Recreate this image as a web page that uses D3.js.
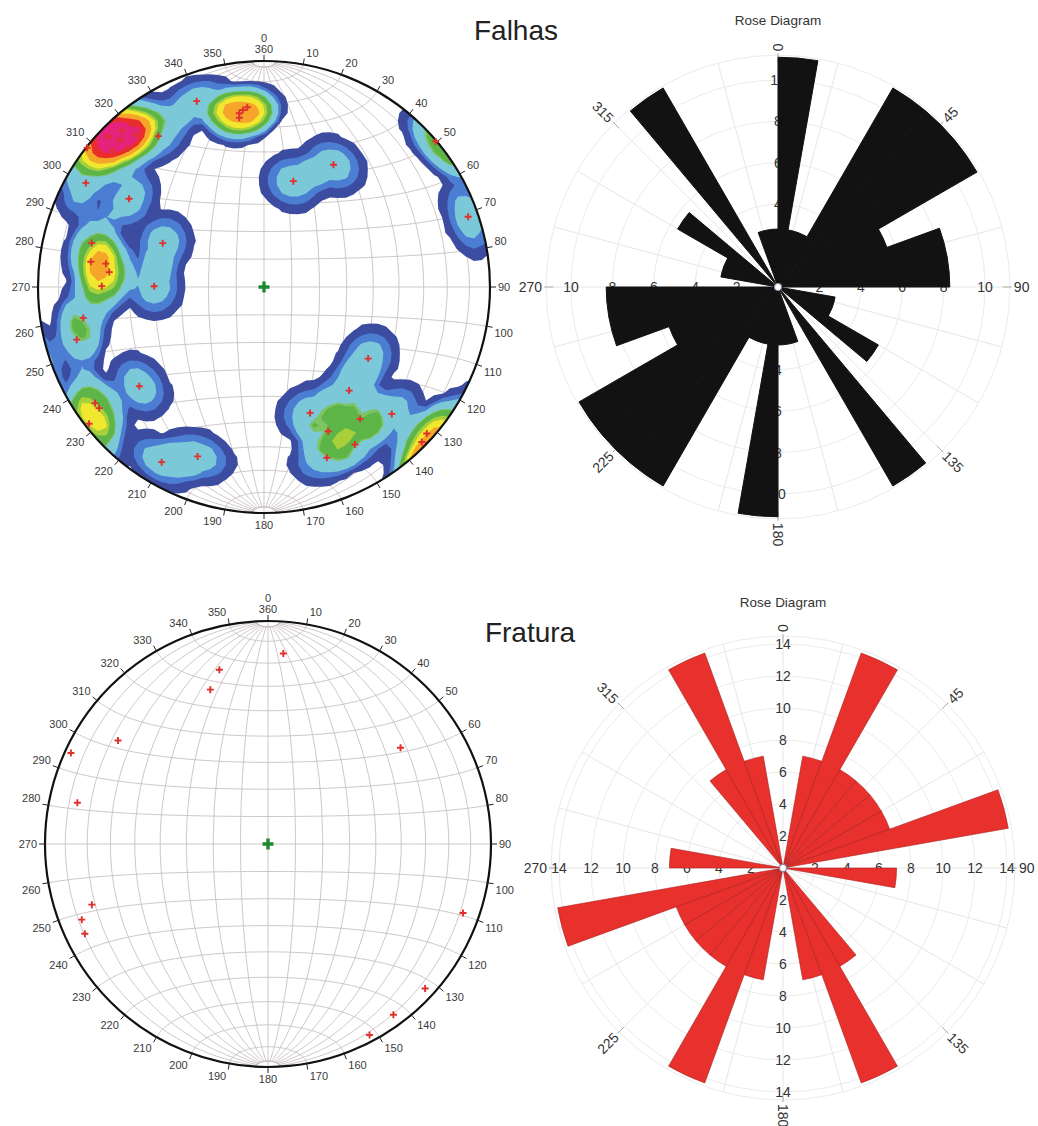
<!DOCTYPE html>
<html>
<head>
<meta charset="utf-8">
<script src="https://cdn.jsdelivr.net/npm/d3@7"></script>
<style>
html,body{margin:0;padding:0;background:#fff;}
svg{display:block;font-family:"Liberation Sans",Arial,sans-serif;}
</style>
</head>
<body>
<svg id="chart" width="1038" height="1126"></svg>
<script>
// ================= DATA =================
// Falhas: poles to planes, lower hemisphere (trend, plunge in degrees)
const falhasTrend  = [340.1,354.7,351.9,351.7,353.2,314.0,317.8,320.0,311.9,315.5,315.6,320.8,325.0,308.2,49.7,29.6,15.5,300.3,303.2,284.3,293.4,278.3,278.4,275.5,270.3,270.4,260.3,254.3,231.5,235.5,233.7,232.0,210.3,201.4,124.5,140.6,159.9,134.8,143.9,156.0,150.0,159.8,134.5,132.0,71.0];
const falhasPlunge = [13.6,21.2,23.4,25.3,22.2,4.6,7.2,13.0,10.6,15.2,9.8,8.3,19.6,0.5,0.5,37.8,49.8,9.6,29.4,22.4,49.6,23.6,30.0,31.8,29.0,49.8,20.0,15.0,30.2,10.2,10.4,2.0,11.2,20.6,43.4,40.4,40.4,21.4,28.6,30.8,20.6,20.6,2.4,3.5,5.0];
// Fratura: poles (trend, plunge in degrees)
const fraturaTrend  = [4.6,344.4,339.5,304.6,294.8,282.2,54.0,251.0,247.9,243.9,109.5,132.6,143.7,152.0];
const fraturaPlunge = [15.4,20.0,27.0,19.4,3.0,13.6,27.4,17.6,10.8,9.4,8.0,4.8,5.6,3.4];
// Rose diagrams (bidirectional, 10 degree bins, values in %)
const roseBinStart = [0,10,20,30,40,50,60,70,80,90,100,110,120,130,140,150,160,170];
const falhasRose   = [11.1,2.8,2.8,11.1,11.1,11.1,5.6,8.3,8.3,0,2.8,2.8,5.6,0,11.1,0,2.8,2.8];
const fraturaRose  = [0,7.1,14.3,7.1,7.1,7.1,7.1,14.3,0,7.1,0,0,0,0,7.1,14.3,7.1,0];
const falhasRings  = [2,4,6,8,10];
const fraturaRings = [2,4,6,8,10,12,14];
const netTickLabels = [0,10,20,30,40,50,60,70,80,90,100,110,120,130,140,150,160,170,180,190,200,210,220,230,240,250,260,270,280,290,300,310,320,330,340,350];
const roseDirLabels = [0,45,90,135,180,225,270,315];
const densityLevels = [0.1,0.5,0.85,1.7,1.82,2.5,2.9,3.6,4.6,5.5];
const densityColors = ["#3c4ca0","#4b7dd3","#7bc8d9","#7fc464","#5db548","#a8d03a","#f1e72f","#f6a52b","#ea2c2a","#e5237c"];

// ================= DRAW =================
const svg = d3.select("#chart");
const defs = svg.append("defs");
const rad = Math.PI / 180;
const K0 = 5, K1 = 12.5;
function kernel(a) { return a <= K0 ? 1 : (a >= K1 ? 0 : (K1 - a) / (K1 - K0)); }

function poleVector(t, p) {
  const c = (90 - p) * rad, T = t * rad;
  return [Math.cos(c), Math.sin(c) * Math.sin(T), Math.sin(c) * Math.cos(T)];
}

function drawNet(o) {
  const { cx, cy, R, trend, plunge, density, id } = o;
  const g = svg.append("g");
  const proj = d3.geoAzimuthalEqualArea().rotate([0, 0]).scale(R / Math.SQRT2)
    .translate([cx, cy]).clipAngle(90).precision(0.2);
  const path = d3.geoPath(proj);
  defs.append("clipPath").attr("id", id).append("circle").attr("cx", cx).attr("cy", cy).attr("r", R);

  // graticule (Schmidt net, 10 degree)
  const grat = d3.geoGraticule().stepMinor([10, 10]).extentMinor([[-180, -87], [180, 87]]).stepMajor([90, 360]);
  const gg = g.append("g").attr("clip-path", `url(#${id})`);
  gg.append("path").datum(grat()).attr("d", path).attr("fill", "none")
    .attr("stroke", "#c6bebe").attr("stroke-width", 0.85);
  [87, -87].forEach(lat => {
    gg.append("path").datum({ type: "LineString", coordinates: d3.range(-90, 91, 5).map(l => [l, lat]) })
      .attr("d", path).attr("fill", "none").attr("stroke", "#a9a1a1").attr("stroke-width", 0.9);
  });

  const poles = trend.map((t, i) => poleVector(t, plunge[i]));

  if (density) {
    const cell = 8;
    const x0 = cx - R - 3 * cell, y0 = cy - R - 3 * cell;
    const nx = Math.ceil((2 * R + 6 * cell) / cell), ny = nx;
    const values = new Float64Array(nx * ny);
    for (let j = 0; j < ny; j++) {
      for (let i = 0; i < nx; i++) {
        let dx = x0 + (i + 0.5) * cell - cx, dy = y0 + (j + 0.5) * cell - cy;
        const d = Math.hypot(dx, dy);
        if (d > R * 0.999) { const s = R * 0.999 / d; dx *= s; dy *= s; }
        const ll = proj.invert([cx + dx, cy + dy]);
        const la = ll[1] * rad, lo = ll[0] * rad;
        const v = [Math.cos(la) * Math.cos(lo), Math.cos(la) * Math.sin(lo), Math.sin(la)];
        let s = 0;
        poles.forEach(p => {
          const dot = Math.min(1, Math.abs(v[0] * p[0] + v[1] * p[1] + v[2] * p[2]));
          s += kernel(Math.acos(dot) / rad);
        });
        values[j * nx + i] = s;
      }
    }
    const contours = d3.contours().size([nx, ny]).thresholds(densityLevels)(values);
    const gp = d3.geoPath(d3.geoIdentity().scale(cell).translate([x0, y0]));
    g.append("g").attr("clip-path", `url(#${id})`).selectAll("path").data(contours).join("path")
      .attr("d", gp).attr("fill", (d, i) => densityColors[i]).attr("stroke", "none");
  }

  // primitive circle
  g.append("circle").attr("cx", cx).attr("cy", cy).attr("r", R).attr("fill", "none")
    .attr("stroke", "#111").attr("stroke-width", 2.2);

  // ticks and labels
  netTickLabels.forEach(a => {
    const s = Math.sin(a * rad), c = Math.cos(a * rad);
    g.append("line").attr("x1", cx + R * s).attr("y1", cy - R * c)
      .attr("x2", cx + (R + 6) * s).attr("y2", cy - (R + 6) * c)
      .attr("stroke", "#222").attr("stroke-width", 1);
    const px = cx + (R + 6) * s, py = cy - (R + 6) * c;
    const sx = Math.abs(s) < 0.05 ? 0 : Math.sign(s);
    const sy = Math.abs(c) < 0.05 ? 0 : Math.sign(c);
    g.append("text").attr("x", px + sx * 2).attr("y", py - sy * 6)
      .attr("text-anchor", sx > 0 ? "start" : (sx < 0 ? "end" : "middle"))
      .attr("dominant-baseline", "central").attr("font-size", 11).attr("fill", "#3a3a3a")
      .text(a === 0 ? "360" : a);
    if (a === 0) {
      g.append("text").attr("x", cx).attr("y", py - 17).attr("text-anchor", "middle")
        .attr("dominant-baseline", "central").attr("font-size", 11).attr("fill", "#3a3a3a").text("0");
    }
  });

  // poles
  g.append("g").selectAll("path").data(poles).join("path")
    .attr("transform", p => {
      const xy = proj([Math.atan2(p[1], p[0]) / rad, Math.asin(p[2]) / rad]);
      return `translate(${xy[0]},${xy[1]})`;
    })
    .attr("d", "M-3.5,0H3.5M0,-3.5V3.5").attr("stroke", "#e0302c").attr("stroke-width", 1.9).attr("fill", "none");

  // center mark
  const c0 = proj([0, 0]);
  g.append("path").attr("transform", `translate(${c0[0]},${c0[1]})`)
    .attr("d", "M-5.5,0H5.5M0,-5.5V5.5").attr("stroke", "#1c8a32").attr("stroke-width", 3.4);
}

function drawRose(o) {
  const g = svg.append("g").attr("transform", `translate(${o.cx},${o.cy})`);
  const r = d3.scaleLinear().domain([0, 1]).range([0, o.ppu]);
  const Rout = r(o.outer);
  // radial grid
  d3.range(0, 360, 15).forEach(a => {
    g.append("line").attr("x1", 0).attr("y1", 0)
      .attr("x2", Rout * Math.sin(a * rad)).attr("y2", -Rout * Math.cos(a * rad))
      .attr("stroke", "#e6e6e6").attr("stroke-width", 1);
  });
  g.selectAll("circle.ring").data(o.rings.concat([o.outer])).join("circle").attr("class", "ring")
    .attr("r", d => r(d)).attr("fill", "none").attr("stroke", "#ebebeb").attr("stroke-width", 1);
  // direction ticks
  roseDirLabels.forEach(a => {
    const s = Math.sin(a * rad), c = Math.cos(a * rad);
    g.append("line").attr("x1", (Rout - 7) * s).attr("y1", -(Rout - 7) * c)
      .attr("x2", (Rout + 2) * s).attr("y2", -(Rout + 2) * c).attr("stroke", "#aaa").attr("stroke-width", 1);
  });
  // ring labels along axes
  o.rings.forEach(v => {
    [[0, -1], [0, 1], [-1, 0], [1, 0]].forEach(([ux, uy]) => {
      g.append("text").attr("x", ux * r(v)).attr("y", uy * r(v)).attr("text-anchor", "middle")
        .attr("dominant-baseline", "central").attr("font-size", 14).attr("fill", "#333").text(v);
    });
  });
  // bars
  const arc = d3.arc().innerRadius(0);
  const bars = [];
  roseBinStart.forEach((b, i) => {
    if (o.values[i] > 0) {
      bars.push({ s: b, v: o.values[i] });
      bars.push({ s: b + 180, v: o.values[i] });
    }
  });
  g.selectAll("path.bar").data(bars).join("path").attr("class", "bar")
    .attr("d", d => arc({ startAngle: d.s * rad, endAngle: (d.s + 10) * rad, outerRadius: r(d.v) }))
    .attr("fill", o.fill).attr("stroke", o.stroke).attr("stroke-width", o.strokeWidth)
    .attr("stroke-linejoin", "round");
  // center
  g.append("circle").attr("r", 3.5).attr("fill", "#fff").attr("stroke", "#8a86a8").attr("stroke-width", 1.2);
  // direction labels
  roseDirLabels.forEach(a => {
    const s = Math.sin(a * rad), c = Math.cos(a * rad);
    const x = (Rout + 4) * s, y = -(Rout + 4) * c;
    const rot = a <= 180 ? a - 90 : a - 270;
    g.append("text").attr("transform", `translate(${x},${y}) rotate(${rot})`)
      .attr("text-anchor", a > 180 ? "end" : "start").attr("dominant-baseline", "central")
      .attr("font-size", 14).attr("fill", "#333").text(a);
  });
  // title
  svg.append("text").attr("x", o.cx).attr("y", o.titleY).attr("text-anchor", "middle")
    .attr("dominant-baseline", "central").attr("font-size", 13.5).attr("fill", "#333").text("Rose Diagram");
}

drawNet({ cx: 264, cy: 287, R: 226, trend: falhasTrend, plunge: falhasPlunge, density: true, id: "clipTop" });
drawNet({ cx: 268, cy: 844, R: 223, trend: fraturaTrend, plunge: fraturaPlunge, density: false, id: "clipBot" });

drawRose({ cx: 778, cy: 287, ppu: 20.7, outer: 11.2, rings: falhasRings, values: falhasRose,
  fill: "#121212", stroke: "#121212", strokeWidth: 1, titleY: 20 });
drawRose({ cx: 783, cy: 868, ppu: 16.0, outer: 14.5, rings: fraturaRings, values: fraturaRose,
  fill: "#e8302c", stroke: "#a82020", strokeWidth: 0.6, titleY: 602 });

svg.append("text").attr("x", 516).attr("y", 30).attr("text-anchor", "middle")
  .attr("dominant-baseline", "central").attr("font-size", 28).attr("fill", "#222").text("Falhas");
svg.append("text").attr("x", 530).attr("y", 632).attr("text-anchor", "middle")
  .attr("dominant-baseline", "central").attr("font-size", 28).attr("fill", "#222").text("Fratura");
</script>
</body>
</html>
